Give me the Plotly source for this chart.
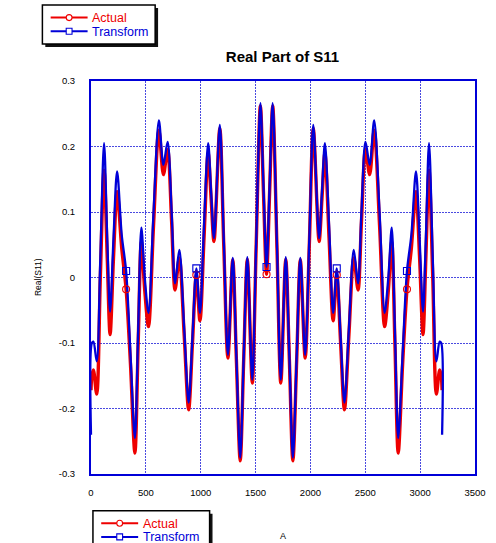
import plotly.graph_objects as go

# Sample index of the sweep
sample = [0, 8, 22, 52, 85, 119, 148, 174, 205, 238, 280, 320, 360, 400, 430, 459, 490, 524,
          570, 619, 660, 698, 735, 766, 805, 850, 890, 925, 960, 993, 1030, 1068, 1095, 1121,
          1174, 1210, 1248, 1292, 1325, 1360, 1392, 1425, 1470, 1505, 1544, 1572, 1600,
          1628, 1656, 1695, 1730, 1775, 1808, 1840, 1875, 1908, 1952, 1990, 2026, 2079, 2105,
          2132, 2170, 2207, 2240, 2275, 2310, 2350, 2395, 2434, 2465, 2502, 2540, 2581, 2630,
          2676, 2710, 2741, 2770, 2800, 2840, 2880, 2920, 2962, 2995, 3026, 3052, 3081, 3115,
          3148, 3178, 3192, 3200]

# Measured real part of S11
actual = [-0.172, -0.150, -0.141, -0.178, 0.000, 0.164, 0.030, -0.087, 0.030, 0.131, 0.045,
          -0.018, -0.133, -0.268, -0.100, 0.055, -0.020, -0.075, 0.080, 0.225, 0.157, 0.195,
          0.085, -0.019, 0.030, -0.090, -0.202, -0.100, 0.004, -0.066, 0.060, 0.190, 0.120,
          0.055, 0.228, 0.050, -0.123, 0.027, -0.125, -0.280, -0.125, 0.028, -0.161, 0.045,
          0.262, 0.130, 0.005,
          0.130, 0.262, 0.045, -0.161, 0.028, -0.125, -0.280, -0.125, 0.027, -0.123, 0.050,
          0.228, 0.055, 0.120, 0.190, 0.060, -0.066, 0.004, -0.100, -0.202, -0.090, 0.030,
          -0.019, 0.085, 0.195, 0.157, 0.225, 0.080, -0.075, -0.020, 0.055, -0.100, -0.268,
          -0.133, -0.018, 0.045, 0.131, 0.030, -0.087, 0.030, 0.164, 0.000, -0.178, -0.141,
          -0.150, -0.172]

# Real part of S11 recovered through the transform
transform = [-0.240, -0.100, -0.098, -0.128, 0.030, 0.205, 0.060, -0.052, 0.060, 0.162, 0.065,
             0.010, -0.118, -0.245, -0.080, 0.076, 0.000, -0.054, 0.100, 0.240, 0.172, 0.207,
             0.100, -0.009, 0.042, -0.080, -0.191, -0.090, 0.014, -0.054, 0.080, 0.205, 0.130,
             0.060, 0.233, 0.060, -0.118, 0.030, -0.120, -0.275, -0.120, 0.031, -0.156, 0.050,
             0.266, 0.140, 0.016,
             0.140, 0.266, 0.050, -0.156, 0.031, -0.120, -0.275, -0.120, 0.030, -0.118, 0.060,
             0.233, 0.060, 0.130, 0.205, 0.080, -0.054, 0.014, -0.090, -0.191, -0.080, 0.042,
             -0.009, 0.100, 0.207, 0.172, 0.240, 0.100, -0.054, 0.000, 0.076, -0.080, -0.245,
             -0.118, 0.010, 0.065, 0.162, 0.060, -0.052, 0.060, 0.205, 0.030, -0.128, -0.098,
             -0.100, -0.240]

# Samples that carry a symbol
marker_samples = [320, 960, 1600, 2240, 2880]

x_ticks = [0, 500, 1000, 1500, 2000, 2500, 3000, 3500]
x_tick_labels = ["0", "500", "1000", "1500", "2000", "2500", "3000", "3500"]
y_ticks = [0.3, 0.2, 0.1, 0, -0.1, -0.2, -0.3]
y_tick_labels = ["0.3", "0.2", "0.1", "0", "-0.1", "-0.2", "-0.3"]

RED = "#ee0000"
BLUE = "#0000d8"
GRID = "#4a4ae0"
FONT = "Liberation Sans, Arial, sans-serif"

W, H = 496, 543
L, R, T, B = 91, 10, 81, 69
PW, PH = W - L - R, H - T - B


def px(xp):
    return (xp - L) / PW


def py(yp):
    return (H - B - yp) / PH


mark_idx = [sample.index(s) for s in marker_samples]

fig = go.Figure()
fig.add_trace(go.Scatter(x=sample, y=actual, mode="lines", name="Actual",
                         line=dict(color=RED, width=3.4, shape="spline", smoothing=0.9),
                         showlegend=False))
fig.add_trace(go.Scatter(x=sample, y=transform, mode="lines", name="Transform",
                         line=dict(color=BLUE, width=2.3, shape="spline", smoothing=0.9),
                         showlegend=False))
fig.add_trace(go.Scatter(x=marker_samples, y=[actual[i] for i in mark_idx], mode="markers",
                         marker=dict(symbol="circle-open", size=7, color=RED,
                                     line=dict(width=1.1, color=RED)),
                         showlegend=False))
fig.add_trace(go.Scatter(x=marker_samples, y=[transform[i] for i in mark_idx], mode="markers",
                         marker=dict(symbol="square-open", size=7, color=BLUE,
                                     line=dict(width=1.1, color=BLUE)),
                         showlegend=False))

shapes = []
annotations = []


def legend_box(x0, y0, w, h):
    # shadow, box, two sample lines with their symbols, and the labels
    shapes.append(dict(type="rect", xref="paper", yref="paper", layer="above",
                       x0=px(x0 + 3), x1=px(x0 + w + 3), y0=py(y0 + 3), y1=py(y0 + h + 3),
                       fillcolor="#111111", line=dict(width=0)))
    shapes.append(dict(type="rect", xref="paper", yref="paper", layer="above",
                       x0=px(x0), x1=px(x0 + w), y0=py(y0), y1=py(y0 + h),
                       fillcolor="white", line=dict(color="black", width=1.5)))
    rows = [("Actual", RED, "circle", 12.6), ("Transform", BLUE, "rect", 26.2)]
    for label, col, sym, dy in rows:
        yy = y0 + dy
        shapes.append(dict(type="line", xref="paper", yref="paper", layer="above",
                           x0=px(x0 + 8.5), x1=px(x0 + 46.5), y0=py(yy), y1=py(yy),
                           line=dict(color=col, width=2)))
        cx = x0 + 27.5
        shapes.append(dict(type=sym, xref="paper", yref="paper", layer="above",
                           x0=px(cx - 3), x1=px(cx + 3), y0=py(yy - 3), y1=py(yy + 3),
                           fillcolor="white", line=dict(color=col, width=1.1)))
        annotations.append(dict(text=label, xref="paper", yref="paper",
                                x=px(x0 + 50), y=py(yy + 0.5), xanchor="left",
                                yanchor="middle", showarrow=False, borderpad=0,
                                font=dict(family=FONT, size=12.5, color=col)))


legend_box(41, 5, 116, 39)
legend_box(93, 510.7, 120, 39)

annotations.append(dict(text="Real(S11)", xref="paper", yref="paper", x=px(36), y=0.5,
                        xanchor="center", yanchor="middle", textangle=-90, showarrow=False,
                        font=dict(family=FONT, size=8.5, color="black")))
annotations.append(dict(text="A", xref="paper", yref="paper", x=px(288), y=py(536),
                        xanchor="center", yanchor="middle", showarrow=False,
                        font=dict(family=FONT, size=9, color="black")))

axis_common = dict(showline=True, mirror=True, linecolor=BLUE, linewidth=2,
                   showgrid=True, gridcolor=GRID, gridwidth=1, griddash="2px,1px",
                   zeroline=False, ticks="", tickfont=dict(family=FONT, size=9.5, color="black"))

fig.update_layout(
    width=W, height=H,
    margin=dict(l=L, r=R, t=T, b=B, pad=0),
    paper_bgcolor="white", plot_bgcolor="white",
    title=dict(text="<b>Real Part of S11</b>", x=px(288), xref="paper", xanchor="center",
               y=1 - 57 / H, yref="container", yanchor="middle",
               font=dict(family=FONT, size=15, color="black")),
    xaxis=dict(range=[0, 3500], tickvals=x_ticks, ticktext=x_tick_labels,
               ticklabelstandoff=9, **axis_common),
    yaxis=dict(range=[-0.3, 0.3], tickvals=y_ticks, ticktext=y_tick_labels,
               ticklabelstandoff=12, **axis_common),
    shapes=shapes,
    annotations=annotations,
    showlegend=False,
)

fig.write_html("out.html")
